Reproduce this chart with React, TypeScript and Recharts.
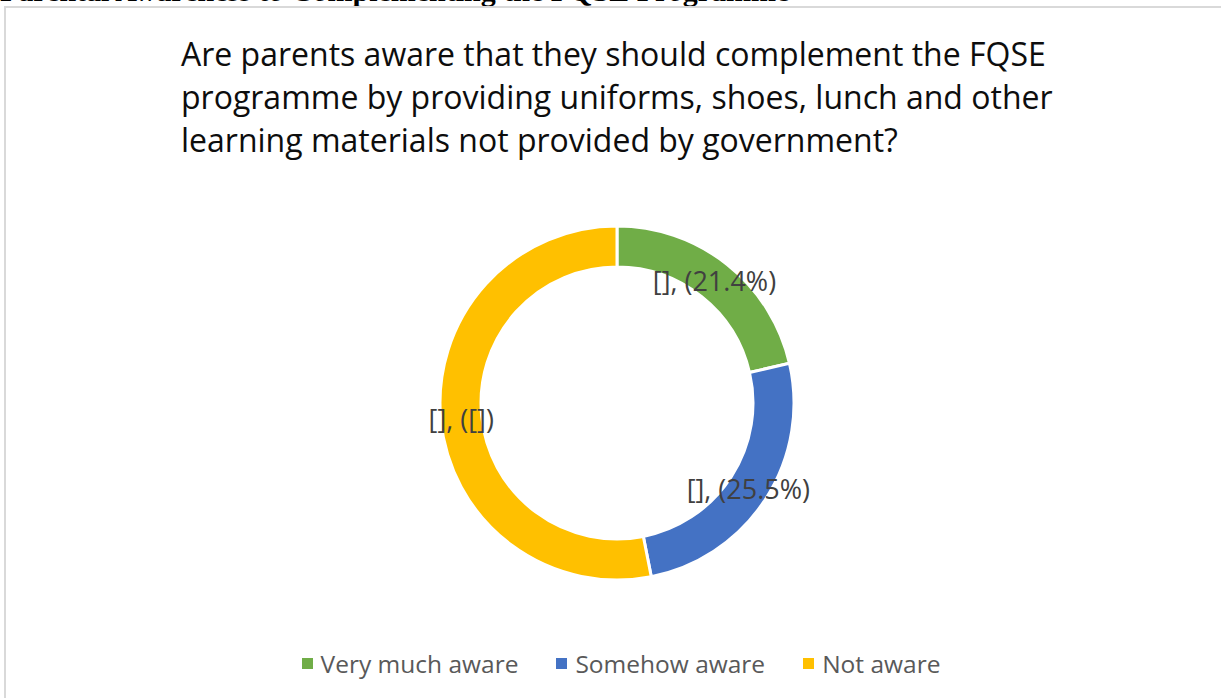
import { PieChart, Pie, Cell, Legend } from 'recharts';

const CATEGORIES = ['Very much aware', 'Somehow aware', 'Not aware'];
const VALUES = [21.4, 25.5, 53.1];
const SLICE_LABELS = ['[], (21.4%)', '[], (25.5%)', '[], ([])'];
const COLORS = ['#70AD47', '#4472C4', '#FFC000'];
const TITLE_LINES = [
  'Are parents aware that they should complement the FQSE',
  'programme by providing uniforms, shoes, lunch and other',
  'learning materials not provided by government?',
];

const data = CATEGORIES.map((name, i) => ({ name, value: VALUES[i], label: SLICE_LABELS[i] }));

const FONT = '"Open Sans", sans-serif';
const RAD = Math.PI / 180;

function renderLabel(props: any) {
  const { cx, cy, midAngle, innerRadius, outerRadius, index } = props;
  const r = (innerRadius + outerRadius) / 2;
  const x = cx + r * Math.cos(-midAngle * RAD);
  const y = cy + r * Math.sin(-midAngle * RAD);
  return (
    <text x={x} y={y} textAnchor="middle" dominantBaseline="central" fill="#404040" fontSize={27} fontFamily={FONT}>
      {SLICE_LABELS[index]}
    </text>
  );
}

function renderLegend() {
  return (
    <div
      style={{
        display: 'flex', justifyContent: 'center', gap: 38, paddingLeft: 21,
        fontFamily: FONT, fontSize: 24.5, color: '#595959',
      }}
    >
      {CATEGORIES.map((c, i) => (
        <div key={c} style={{ display: 'flex', alignItems: 'center' }}>
          <span style={{ width: 11, height: 11, background: COLORS[i], marginRight: 8, display: 'inline-block' }} />
          <span>{c}</span>
        </div>
      ))}
    </div>
  );
}

export default function App() {
  return (
    <div style={{ position: 'absolute', left: 0, top: 0, width: 1221, height: 698, overflow: 'hidden', background: '#fff' }}>
      <div
        style={{
          position: 'absolute', left: 0, top: -24, whiteSpace: 'nowrap',
          fontFamily: '"Liberation Serif", serif', fontWeight: 'bold', fontSize: 30, lineHeight: '30px', color: '#000',
        }}
      >
        Parental Awareness to Complementing the FQSE Programme
      </div>
      <div style={{ position: 'absolute', left: 4, top: 6, width: 1300, height: 800, border: '2px solid #d9d9d9' }} />
      <div
        style={{
          position: 'absolute', left: 181, top: 32, fontFamily: FONT, fontSize: 32, lineHeight: '43px',
          color: '#0d0d0d', whiteSpace: 'nowrap',
        }}
      >
        {TITLE_LINES.map((l) => (
          <div key={l}>{l}</div>
        ))}
      </div>
      <div style={{ position: 'absolute', left: 0, top: 0 }}>
        <PieChart width={1221} height={698}>
          <Pie
            data={data}
            dataKey="value"
            nameKey="name"
            cx={612}
            cy={398}
            innerRadius={136}
            outerRadius={177}
            startAngle={90}
            endAngle={-270}
            stroke="#ffffff"
            strokeWidth={3}
            label={renderLabel}
            labelLine={false}
            isAnimationActive={false}
          >
            {data.map((d, i) => (
              <Cell key={d.name} fill={COLORS[i]} />
            ))}
          </Pie>
          <Legend content={renderLegend} verticalAlign="bottom" wrapperStyle={{ bottom: 18 }} />
        </PieChart>
      </div>
    </div>
  );
}
